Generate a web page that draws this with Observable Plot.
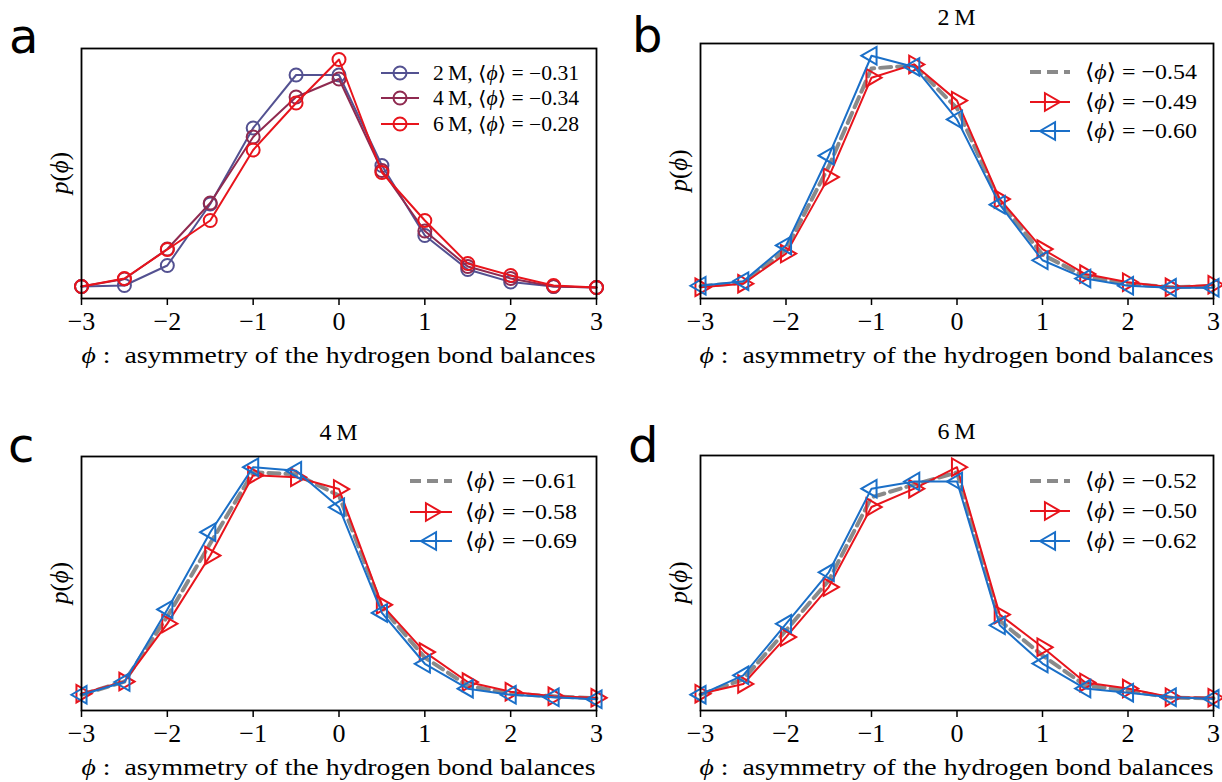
<!DOCTYPE html>
<html><head><meta charset="utf-8">
<script src="https://cdn.jsdelivr.net/npm/d3@7"></script>
<script src="https://cdn.jsdelivr.net/npm/@observablehq/plot@0.6"></script>
<style>
body{margin:0;background:#fff;}
#fig{position:relative;width:1222px;height:782px;overflow:hidden;background:#fff;}
#fig svg{position:absolute;overflow:visible;}
</style></head><body><div id="fig"></div>
<script>
// ---- data ----
const phi = [-3,-2.5,-2,-1.5,-1,-0.5,0,0.5,1,1.5,2,2.5,3];
const xTicks = [-3,-2,-1,0,1,2,3];

// panel a
const a_2M = [0.024,0.026,0.066,0.189,0.341,0.447,0.447,0.266,0.126,0.058,0.033,0.024,0.022];
const a_4M = [0.024,0.039,0.099,0.191,0.323,0.403,0.439,0.256,0.135,0.064,0.040,0.024,0.022];
const a_6M = [0.024,0.040,0.098,0.156,0.297,0.391,0.478,0.252,0.156,0.070,0.046,0.026,0.022];
const a_labels = ["2\u2009M, ", "4\u2009M, ", "6\u2009M, "];
const a_means = ["−0.31","−0.34","−0.28"];

// panel b (2 M)
const b_gray = [0.024,0.031,0.096,0.259,0.451,0.457,0.373,0.190,0.086,0.043,0.029,0.022,0.024];
const b_red  = [0.022,0.029,0.088,0.238,0.433,0.459,0.388,0.195,0.097,0.048,0.032,0.022,0.027];
const b_blue = [0.025,0.034,0.104,0.280,0.476,0.454,0.351,0.184,0.075,0.039,0.025,0.021,0.021];
const b_means = ["−0.54","−0.49","−0.60"];

// panel c (4 M)
const c_gray = [0.031,0.057,0.185,0.329,0.469,0.465,0.423,0.203,0.104,0.049,0.033,0.028,0.024];
const c_red  = [0.033,0.057,0.171,0.305,0.463,0.459,0.436,0.208,0.115,0.056,0.037,0.028,0.025];
const c_blue = [0.031,0.056,0.199,0.351,0.479,0.472,0.400,0.192,0.092,0.043,0.031,0.026,0.022];
const c_means = ["−0.61","−0.58","−0.69"];

// panel d (6 M)
const d_gray = [0.031,0.061,0.157,0.255,0.418,0.443,0.467,0.176,0.108,0.049,0.039,0.025,0.024];
const d_red  = [0.033,0.052,0.144,0.242,0.399,0.435,0.477,0.188,0.124,0.055,0.043,0.026,0.025];
const d_blue = [0.031,0.069,0.170,0.271,0.435,0.449,0.449,0.167,0.092,0.043,0.035,0.026,0.023];
const d_means = ["−0.52","−0.50","−0.62"];

const C2 = "#535191", C4 = "#8f2a50", C6 = "#e8141c";
const RED = "#e8141c", BLUE = "#1a6fc8", GRAY = "#8a8a8a";
const SERIF = "'Liberation Serif','DejaVu Serif',serif";
const SANS = "'DejaVu Sans',sans-serif";

const fig = document.getElementById("fig");

function addText(g, x, y, parts, opts = {}) {
  const t = g.append("text").attr("x", x).attr("y", y)
    .attr("font-family", opts.family || SERIF)
    .attr("font-size", opts.size || 20)
    .style("font-size", (opts.size || 20) + "px")
    .attr("fill", "black")
    .attr("text-anchor", opts.anchor || "start");
  if (opts.rotate) t.attr("transform", `rotate(${opts.rotate},${x},${y})`);
  if (opts.weight) t.attr("font-weight", opts.weight);
  if (opts.length) t.attr("textLength", opts.length).attr("lengthAdjust", "spacingAndGlyphs");
  for (const [s, it] of parts) {
    const ts = t.append("tspan").text(s);
    if (it) ts.attr("font-style", "italic");
  }
  return t;
}

function panel(cfg) {
  const {left, top, w, h, mL, mR, mT, mB, series} = cfg;
  const marks = [];
  for (const s of series) {
    const data = phi.map((x, i) => ({x, y: s.values[i]}));
    marks.push(Plot.line(data, {x: "x", y: "y", stroke: s.color, strokeWidth: s.width, strokeDasharray: s.dash || null}));
    if (s.symbol) marks.push(Plot.dot(data, {x: "x", y: "y", stroke: s.color, fill: "none", symbol: s.symbol, r: s.r, rotate: s.rotate || 0, strokeWidth: 2}));
  }
  const svg = Plot.plot({
    width: w, height: h,
    marginLeft: mL, marginRight: mR, marginTop: mT, marginBottom: mB,
    x: {domain: [-3, 3]},
    y: {domain: [0, 0.5], axis: null},
    style: {fontFamily: SERIF, fontSize: "26px", background: "transparent", overflow: "visible"},
    marks: [
      ...marks,
      Plot.axisX(xTicks, {tickSize: 7, tickPadding: 6, strokeWidth: 1.5, fontSize: 26, label: null, fill: "black", stroke: "black"}),
      Plot.frame({stroke: "black", strokeWidth: 1.8})
    ]
  });
  svg.style.left = left + "px";
  svg.style.top = top + "px";
  fig.appendChild(svg);
  d3.select(svg).selectAll("text")
    .attr("font-size", 26).style("font-size", "26px").style("font-family", SERIF);
  const g = d3.select(svg).append("g");
  const fx0 = mL, fx1 = w - mR, fy0 = mT, fy1 = h - mB;
  const cx = (fx0 + fx1) / 2, cy = (fy0 + fy1) / 2;
  // x label
  addText(g, cx, fy1 + 65, [["ϕ", true], [" :  asymmetry of the hydrogen bond balances", false]], {anchor: "middle", size: 24, length: 514});
  // y label
  addText(g, fx0 - 13, cy, [["p", true], ["(", false], ["ϕ", true], [")", false]], {anchor: "middle", size: 25, rotate: -90});
  // panel letter
  addText(g, cfg.letterX, cfg.letterY, [[cfg.letter, false]], {family: SANS, size: 48});
  if (cfg.title) addText(g, cx, fy0 - cfg.titleGap, [[cfg.title, false]], {anchor: "middle", size: 24});
  // legend
  const L = cfg.legend;
  series.filter(s => s.legend).forEach((s, i) => {
    const yy = fy0 + L.rows[i];
    const x0 = fx1 - L.lineStart, x1 = x0 + L.lineLen;
    g.append("line").attr("x1", x0).attr("x2", x1).attr("y1", yy).attr("y2", yy)
      .attr("stroke", s.color).attr("stroke-width", s.width).attr("stroke-dasharray", s.dash || null);
    if (s.symbol) {
      const sym = s.symbol === "circle" ? d3.symbolCircle : d3.symbolTriangle;
      g.append("path").attr("d", d3.symbol(sym, Math.PI * s.r * s.r)())
        .attr("transform", `translate(${(x0 + x1) / 2},${yy}) rotate(${s.rotate || 0})`)
        .attr("fill", "none").attr("stroke", s.color).attr("stroke-width", 2);
    }
    addText(g, fx1 - L.textStart, yy + 7, s.legend, {size: L.size, length: L.textLen});
  });
}

const mean = (m) => [["⟨", false], ["ϕ", true], ["⟩ = " + m, false]];

// panel a
panel({
  left: 0, top: 0, w: 611, h: 391, mL: 81, mR: 15, mT: 48, mB: 93,
  letter: "a", letterX: 9, letterY: 53,
  series: [
    {values: a_2M, color: C2, width: 2, symbol: "circle", r: 6.5, legend: [[a_labels[0], false], ...mean(a_means[0])]},
    {values: a_4M, color: C4, width: 2, symbol: "circle", r: 6.5, legend: [[a_labels[1], false], ...mean(a_means[1])]},
    {values: a_6M, color: C6, width: 2, symbol: "circle", r: 6.5, legend: [[a_labels[2], false], ...mean(a_means[2])]}
  ],
  legend: {rows: [25, 50, 76], lineStart: 215, lineLen: 38, textStart: 163, size: 20, textLen: 146}
});

function triSeries(gray, red, blue, means) {
  return [
    {values: gray, color: GRAY, width: 4, dash: "11,6", legend: mean(means[0])},
    {values: red, color: RED, width: 2, symbol: "triangle", r: 6.5, rotate: 90, legend: mean(means[1])},
    {values: blue, color: BLUE, width: 2, symbol: "triangle", r: 6.5, rotate: -90, legend: mean(means[2])}
  ];
}

panel({
  left: 611, top: 0, w: 611, h: 391, mL: 89, mR: 9, mT: 43, mB: 93,
  letter: "b", letterX: 21, letterY: 52, title: "2\u2009M", titleGap: 18,
  series: triSeries(b_gray, b_red, b_blue, b_means),
  legend: {rows: [29, 59, 88], lineStart: 183, lineLen: 40, textStart: 128, size: 22, textLen: 112}
});

panel({
  left: 0, top: 391, w: 611, h: 391, mL: 81, mR: 15, mT: 65, mB: 72,
  letter: "c", letterX: 8, letterY: 71, title: "4\u2009M", titleGap: 16,
  series: triSeries(c_gray, c_red, c_blue, c_means),
  legend: {rows: [25, 56, 85], lineStart: 186, lineLen: 42, textStart: 131, size: 22, textLen: 112}
});

panel({
  left: 611, top: 391, w: 611, h: 391, mL: 89, mR: 9, mT: 64, mB: 72,
  letter: "d", letterX: 17, letterY: 71, title: "6\u2009M", titleGap: 16,
  series: triSeries(d_gray, d_red, d_blue, d_means),
  legend: {rows: [26, 56, 86], lineStart: 183, lineLen: 40, textStart: 128, size: 22, textLen: 112}
});
</script></body></html>
